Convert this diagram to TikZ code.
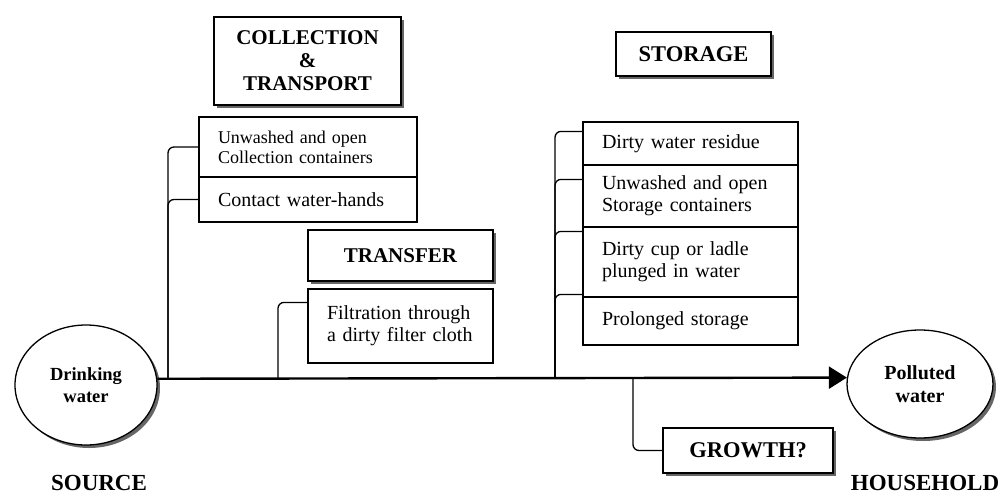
\documentclass[tikz,border=0pt]{standalone}
\usepackage{fontspec}
\setmainfont{Liberation Serif}
\usetikzlibrary{shadows,shapes.geometric,arrows.meta}
\begin{document}
\begin{tikzpicture}[x=1pt,y=-1pt,
  shad/.style={drop shadow={shadow xshift=3pt,shadow yshift=-3pt,fill=black!60,opacity=1}},
  titlebox/.style={draw,line width=1.3pt,fill=white,shad,font=\fontsize{21}{23}\selectfont\bfseries,align=center,inner sep=0pt},
  item/.style={draw,line width=1.2pt,fill=white,font=\fontsize{20}{22}\selectfont,align=left,inner xsep=19pt,inner ysep=0pt},
  oval/.style={draw,ellipse,line width=1.3pt,fill=white,shad,inner sep=0pt,font=\fontsize{18.5}{22}\selectfont\bfseries,align=center},
  conn/.style={line width=1.3pt,rounded corners=6pt},
  big/.style={font=\fontsize{23}{25}\selectfont\bfseries}]
\useasboundingbox (0,0) rectangle (1003,495);
% titles
\node[titlebox,minimum width=187pt,minimum height=88pt] (ct) at (307.5,61) {COLLECTION\\\&\\TRANSPORT};
\node[titlebox,minimum width=185pt,minimum height=51pt] (tr) at (400.5,255.5) {TRANSFER};
\node[titlebox,minimum width=155pt,minimum height=44pt,font=\fontsize{22.5}{24}\selectfont\bfseries] (st) at (693.5,54) {STORAGE};
\node[titlebox,minimum width=170pt,minimum height=45pt,font=\fontsize{22.5}{24}\selectfont\bfseries] (gr) at (748,450.5) {GROWTH?};
% items
\node[item,text width=180pt,minimum height=60pt,font=\fontsize{18}{20}\selectfont] (c1) at (308,147) {Unwashed and open\\Collection containers};
\node[item,text width=180pt,minimum height=45pt] (c2) at (308,199.5) {Contact water-hands};
\node[item,text width=147pt,minimum height=74pt] (f1) at (400.5,326) {Filtration through\\a dirty filter cloth};
\node[item,text width=177pt,minimum height=43pt] (s1) at (690.5,143.5) {Dirty water residue};
\node[item,text width=177pt,minimum height=62pt] (s2) at (690.5,196) {Unwashed and open\\Storage containers};
\node[item,text width=177pt,minimum height=70pt] (s3) at (690.5,262) {Dirty cup or ladle\\plunged in water};
\node[item,text width=177pt,minimum height=48pt] (s4) at (690.5,321) {Prolonged storage};
% ellipses
\node[oval,minimum width=142pt,minimum height=120pt] (src) at (86,385) {Drinking\\water};
\node[oval,minimum width=146pt,minimum height=108pt,font=\fontsize{20}{23}\selectfont\bfseries] (pol) at (920,384) {Polluted\\water};
% labels
\node[big] (lsrc) at (99,483) {SOURCE};
\node[big] (lhh) at (925,483) {HOUSEHOLD};
% junctions on main line
\coordinate (j1) at (168,378);
\coordinate (j2) at (278,378);
\coordinate (j3) at (555,378);
\coordinate (jg) at (633,378);
% connectors
\draw[conn] (c1.west) -| (j1);
\draw[conn] (c2.west) -| (j1);
\draw[conn] ([yshift=-14pt]f1.north west) -| (j2);
\draw[conn] ([yshift=-10pt]s1.north west) -| (j3);
\draw[conn] ([yshift=-15pt]s2.north west) -| (j3);
\draw[conn] ([yshift=-5pt]s3.north west) -| (j3);
\draw[conn] ([yshift=2pt]s4.north west) -| (j3);
\draw[conn] (jg) |- (gr.west);
% main arrow
\draw[line width=2.4pt,-{Triangle[length=18pt,width=22pt]}] (src.5) -- (pol.175);
\end{tikzpicture}
\end{document}
